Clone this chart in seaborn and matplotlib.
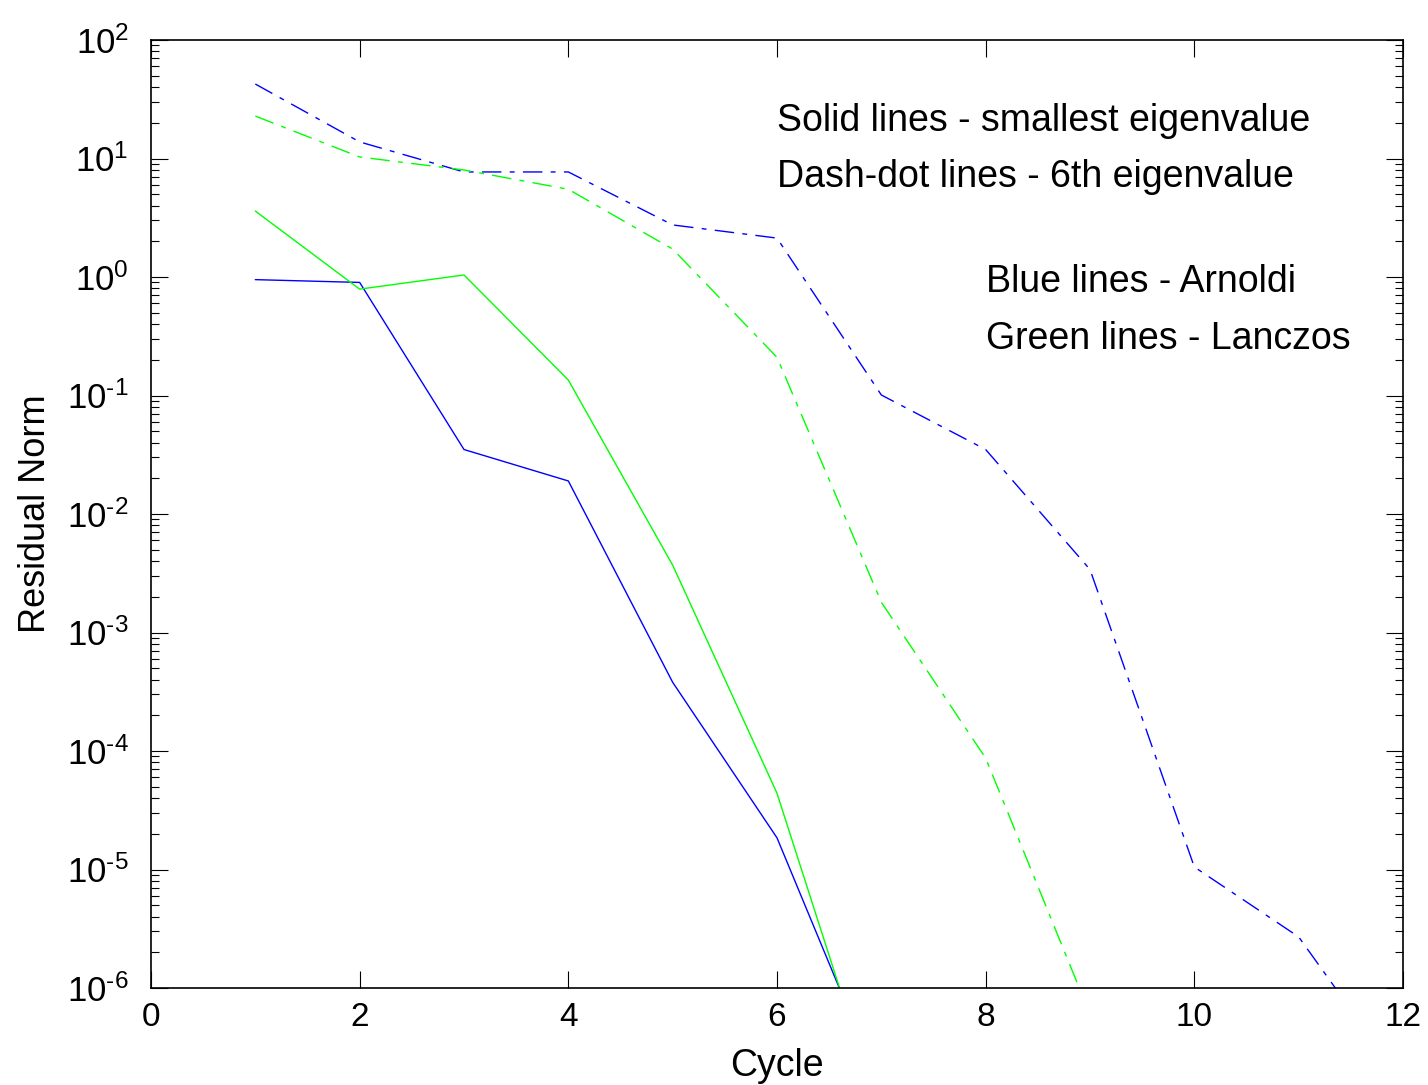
import numpy as np
import pandas as pd
import matplotlib
matplotlib.use("Agg")
import matplotlib.pyplot as plt
import seaborn as sns
from matplotlib.ticker import FuncFormatter, FixedLocator, NullFormatter

cycles_arnoldi_small = [1, 2, 3, 4, 5, 6, 7]
arnoldi_small = [0.95, 0.90, 0.035, 0.019, 3.8e-4, 1.85e-5, 1.4e-7]

cycles_lanczos_small = [1, 2, 3, 4, 5, 6, 7]
lanczos_small = [3.6, 0.79, 1.04, 0.135, 3.7e-3, 4.4e-5, 8e-8]

cycles_arnoldi_6th = [1, 2, 3, 4, 5, 6, 7, 8, 9, 10, 11, 12]
arnoldi_6th = [42.5, 13.8, 7.7, 7.7, 2.75, 2.13, 0.101, 0.035, 3.4e-3, 1.05e-5, 2.7e-6, 1.6e-7]

cycles_lanczos_6th = [1, 2, 3, 4, 5, 6, 7, 8, 9]
lanczos_6th = [22.8, 10.3, 8.0, 5.5, 1.72, 0.21, 1.8e-3, 8.7e-5, 6e-7]

x_ticks = [0, 2, 4, 6, 8, 10, 12]
y_exponents = [-6, -5, -4, -3, -2, -1, 0, 1, 2]

sns.set_theme(style="white")
plt.rcParams['font.family'] = ['Liberation Sans', 'DejaVu Sans']
plt.rcParams['mathtext.fontset'] = 'custom'
plt.rcParams['mathtext.rm'] = 'Liberation Sans'
plt.rcParams['mathtext.it'] = 'Liberation Sans'
plt.rcParams['mathtext.bf'] = 'Liberation Sans'
plt.rcParams['mathtext.sf'] = 'Liberation Sans'
plt.rcParams['axes.unicode_minus'] = False
plt.rcParams['text.color'] = 'black'
plt.rcParams['axes.labelcolor'] = 'black'

fig = plt.figure(figsize=(14.28, 10.85), dpi=100)
ax = fig.add_axes([151/1428, 97/1085, 1252/1428, 948/1085])

dashdot = (0, (14, 6, 3.5, 6))
series = [
    (cycles_arnoldi_small, arnoldi_small, '#0000ff', '-'),
    (cycles_lanczos_small, lanczos_small, '#00ff00', '-'),
    (cycles_arnoldi_6th, arnoldi_6th, '#0000ff', dashdot),
    (cycles_lanczos_6th, lanczos_6th, '#00ff00', dashdot),
]
for xs, ys, c, ls in series:
    df = pd.DataFrame({'x': xs, 'y': ys})
    sns.lineplot(data=df, x='x', y='y', ax=ax, color=c, linestyle=ls, linewidth=1.0)

ax.set_yscale('log')
ax.set_xlim(0, 12)
ax.set_ylim(1e-6, 1e2)
ax.xaxis.set_major_locator(FixedLocator(x_ticks))
major_y = [10.0 ** e for e in y_exponents]
minor_y = [m * 10.0 ** e for e in y_exponents[:-1] for m in range(2, 10)]
ax.yaxis.set_major_locator(FixedLocator(major_y))
ax.yaxis.set_minor_locator(FixedLocator(minor_y))


def fmt(v, pos):
    e = int(round(np.log10(v)))
    if e < 0:
        return r'$10^{\mathrm{\text{-}%d}}$' % (-e)
    return r'$10^{%d}$' % e


ax.yaxis.set_major_formatter(FuncFormatter(fmt))
ax.yaxis.set_minor_formatter(NullFormatter())
ax.xaxis.set_minor_formatter(NullFormatter())

for s in ax.spines.values():
    s.set_color('black')
    s.set_linewidth(1.2)

ax.tick_params(axis='both', which='major', direction='in', length=12, width=0.8,
               top=True, right=True, bottom=True, left=True, labelsize=24, colors='black')
ax.tick_params(axis='x', which='major', pad=10)
ax.tick_params(axis='y', which='major', pad=16, labelsize=25)
ax.tick_params(axis='y', which='minor', direction='in', length=6, width=0.8,
               left=True, right=True, colors='black')
ax.tick_params(axis='x', which='minor', bottom=False, top=False)

ax.set_xlabel('Cycle', fontsize=27, color='black', labelpad=11)
ax.set_ylabel('Residual Norm', fontsize=26, color='black', labelpad=10)

fs = 27
ax.text(6.0, 20.7, 'Solid lines - smallest eigenvalue', fontsize=fs, va='center', ha='left', color='black')
ax.text(6.0, 7.0, 'Dash-dot lines - 6th eigenvalue', fontsize=fs, va='center', ha='left', color='black')
ax.text(8.0, 0.9, 'Blue lines - Arnoldi', fontsize=fs, va='center', ha='left', color='black')
ax.text(8.0, 0.30, 'Green lines - Lanczos', fontsize=fs, va='center', ha='left', color='black')

ax.grid(False)
fig.savefig('out.png', dpi=100)
